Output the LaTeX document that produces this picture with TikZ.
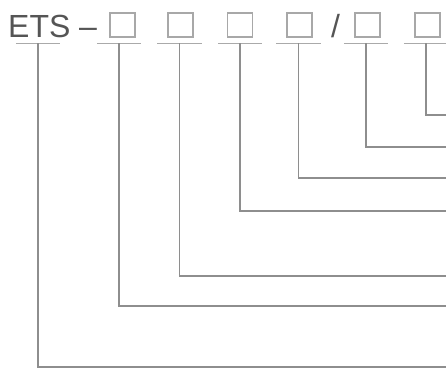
\documentclass[tikz,border=0pt]{standalone}
\usepackage{fontspec}
\setmainfont{Liberation Sans}
\usetikzlibrary{positioning}
\definecolor{etsline}{HTML}{8E8E8E}
\definecolor{etsbox}{HTML}{A8A8A8}
\definecolor{etstext}{HTML}{555555}
\tikzset{
  code/.style={text=etstext,font=\fontsize{32}{32}\selectfont,inner sep=0pt,anchor=base west},
  field/.style={draw=etsbox,line width=1.2pt,minimum width=25pt,minimum height=24pt,inner sep=0pt},
  ubar/.style={inner sep=0pt,minimum height=0pt,minimum width=44pt},
  uline/.style={draw=etsline!75,line width=1pt},
  lead/.style={draw=etsline,line width=1.3pt},
}

\begin{document}
\begin{tikzpicture}[x=1pt,y=-1pt]
  \useasboundingbox (0,0) rectangle (446,372);
  % code string
  \node[code] (ets) at (8,37) {ETS};
  \node[code] (dash) at (79,37) {\char"2013};
  \node[field] (b1) at (122.5,25) {};
  \node[field] (b2) at (180.5,25) {};
  \node[field] (b3) at (240,25) {};
  \node[field] (b4) at (299.5,25) {};
  \node[code] (slash) at (331,37) {/};
  \node[field] (b5) at (367.5,25) {};
  \node[field] (b6) at (427.5,25) {};
  % underlines
  \node[ubar] (u0) at (38,43) {};
  \node[ubar] (u1) at (119,43) {};
  \node[ubar] (u2) at (179.5,43) {};
  \node[ubar] (u3) at (240,43) {};
  \node[ubar] (u4) at (298.5,43) {};
  \node[ubar] (u5) at (366,43) {};
  \node[ubar] (u6) at (426,43) {};
  \foreach \u in {u0,u1,u2,u3,u4,u5,u6}
    \draw[uline] (\u.west) -- (\u.east);
  % right-hand ends
  \coordinate (e6) at (446,115);
  \coordinate (e5) at (446,147);
  \coordinate (e4) at (446,178);
  \coordinate (e3) at (446,211);
  \coordinate (e2) at (446,276);
  \coordinate (e1) at (446,306);
  \coordinate (e0) at (446,367);
  \draw[lead] (u6.center) |- (e6);
  \draw[lead] (u5.center) |- (e5);
  \draw[lead] (u4.center) |- (e4);
  \draw[lead] (u3.center) |- (e3);
  \draw[lead] (u2.center) |- (e2);
  \draw[lead] (u1.center) |- (e1);
  \draw[lead] (u0.center) |- (e0);
\end{tikzpicture}
\end{document}
